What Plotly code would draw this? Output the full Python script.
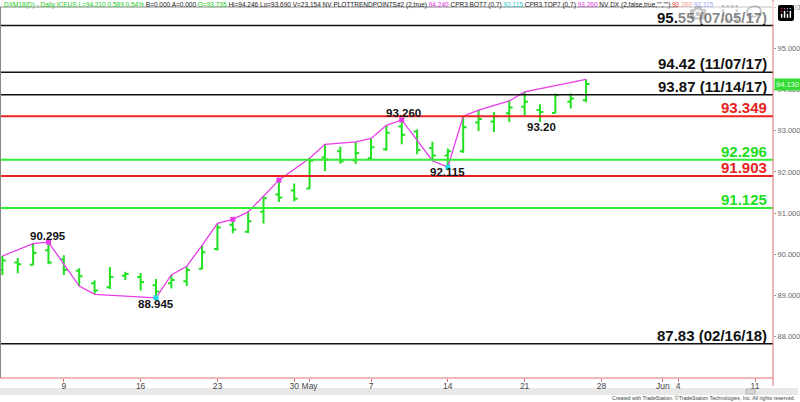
import plotly.graph_objects as go

# ---------------- data ----------------
bar_idx = list(range(39))  # trading days from 2018-04-03 to 2018-05-25
opens  = [89.62, 89.80, 89.75, 90.10, 89.88, 89.60, 89.30, 89.20, 89.48, 89.45,
          89.25, 89.30, 89.35, 89.65, 90.13, 90.72, 90.55, 91.03, 91.45, 91.55,
          91.60, 92.35, 92.50, 92.28, 92.33, 92.55, 93.10, 92.98, 92.58, 92.40,
          92.50, 93.20, 93.22, 93.42, 93.58, 93.50, 93.43, 93.70, 93.735]
highs  = [89.96, 89.91, 90.26, 90.295, 89.98, 89.66, 89.37, 89.69, 89.58, 89.55,
          89.40, 89.50, 89.71, 90.22, 90.75, 90.85, 91.03, 91.41, 91.80, 91.72,
          92.33, 92.67, 92.61, 92.73, 92.81, 93.13, 93.26, 93.03, 92.73, 92.57,
          93.35, 93.50, 93.45, 93.72, 93.94, 93.64, 93.90, 93.90, 94.246]
lows   = [89.50, 89.54, 89.74, 89.76, 89.50, 89.23, 89.03, 89.16, 89.38, 89.12,
          88.945, 89.17, 89.23, 89.63, 90.09, 90.51, 90.52, 90.75, 91.27, 91.28,
          91.58, 92.02, 92.20, 92.19, 92.28, 92.51, 92.67, 92.43, 92.27, 92.115,
          92.46, 92.99, 92.97, 93.21, 93.37, 93.21, 93.42, 93.54, 93.69]
closes = [89.85, 89.76, 90.03, 89.80, 89.62, 89.47, 89.12, 89.45, 89.52, 89.33,
          89.10, 89.38, 89.62, 90.05, 90.65, 90.60, 90.80, 91.36, 91.38, 91.35,
          92.27, 92.30, 92.26, 92.46, 92.60, 92.95, 92.90, 92.53, 92.40, 92.50,
          93.08, 93.28, 93.35, 93.56, 93.70, 93.45, 93.86, 93.78, 94.13]

trend_idx = [0, 2, 3, 5, 6, 10, 11, 12, 13, 14, 15, 16, 17, 18, 20, 21, 23, 24,
             25, 26, 28, 29, 30, 31, 33, 34, 38]
trend_val = [89.96, 90.26, 90.295, 89.23, 89.03, 88.945, 89.50, 89.71, 90.22,
             90.75, 90.85, 91.03, 91.41, 91.80, 92.33, 92.67, 92.73, 92.81,
             93.13, 93.26, 92.27, 92.115, 93.35, 93.50, 93.72, 93.94, 94.246]

top_pts_idx = [3, 15, 18, 26]
top_pts_val = [90.295, 90.85, 91.80, 93.26]
bot_pts_idx = [10, 29]
bot_pts_val = [88.945, 92.115]

level_vals   = [95.55, 94.42, 93.87, 93.349, 92.296, 91.903, 91.125, 87.83]
level_labels = ["95.55 (07/05/17)", "94.42 (11/07/17)", "93.87 (11/14/17)",
                "93.349", "92.296", "91.903", "91.125", "87.83 (02/16/18)"]
level_kinds  = ["black", "black", "black", "red", "green", "red", "green", "black"]

pivot_idx    = [3, 10, 26, 29, 35]
pivot_val    = [90.295, 88.945, 93.26, 92.115, 93.21]
pivot_labels = ["90.295", "88.945", "93.260", "92.115", "93.20"]
pivot_side   = ["above", "below", "above", "below", "below"]

x_tickvals = [4, 9, 14, 19, 20, 24, 29, 34, 39, 43, 44, 49]
x_ticktext = ["9", "16", "23", "30", "May", "7", "14", "21", "28", "Jun", "4", "11"]
y_tickvals = [88, 89, 90, 91, 92, 93, 94, 95, 96]
last_price = 94.130

# ---------------- styling ----------------
W, H = 800, 402
ML, MR, MT, MB = 0, 25, 7, 24
PW, PH = W - ML - MR, H - MT - MB
GREEN = "#22e022"
LINE_GREEN = "#33ee33"
RED = "#ee2222"
MAG = "#e83ce8"
CYAN = "#22d8e8"
COLORS = {"black": "#111111", "red": RED, "green": LINE_GREEN}
LABEL_COLORS = {"black": "#111111", "red": "#e81e1e", "green": "#22dd22"}
FONT = "Liberation Sans, Arial"

PIVOT_XSHIFT = {"93.260": 2, "93.20": 2}
PIVOT_YSHIFT = {"90.295": -2, "88.945": 2, "93.260": -1, "92.115": 3, "93.20": 3}


def px(xp):
    return (xp - ML) / PW


def py(yp):
    return (H - MB - yp) / PH


fig = go.Figure()

fig.add_trace(go.Ohlc(
    x=bar_idx, open=opens, high=highs, low=lows, close=closes,
    increasing=dict(line=dict(color=GREEN, width=2)),
    decreasing=dict(line=dict(color=GREEN, width=2)),
    tickwidth=0.22, hoverinfo="skip", showlegend=False))

fig.add_trace(go.Scatter(
    x=trend_idx, y=trend_val, mode="lines",
    line=dict(color=MAG, width=1.3), hoverinfo="skip", showlegend=False))
fig.add_trace(go.Scatter(
    x=top_pts_idx, y=top_pts_val, mode="markers",
    marker=dict(color=MAG, size=5, symbol="square"), hoverinfo="skip", showlegend=False))
fig.add_trace(go.Scatter(
    x=bot_pts_idx, y=bot_pts_val, mode="markers",
    marker=dict(color=CYAN, size=5, symbol="square"), hoverinfo="skip", showlegend=False))

shapes = []
annotations = []
for v, lab, k in zip(level_vals, level_labels, level_kinds):
    shapes.append(dict(type="line", xref="paper", yref="y", x0=0, x1=1, y0=v, y1=v,
                       line=dict(color=COLORS[k], width=2 if k != "black" else 1.5)))
    annotations.append(dict(xref="paper", yref="y", x=px(771), y=v, text=lab,
                            xanchor="right", yanchor="bottom", yshift=-2, showarrow=False,
                            font=dict(family=FONT, size=15, color=LABEL_COLORS[k],
                                      weight="bold")))

for i, v, lab, side in zip(pivot_idx, pivot_val, pivot_labels, pivot_side):
    annotations.append(dict(xref="x", yref="y", x=i, y=v, text=lab, showarrow=False,
                            xanchor="center",
                            yanchor="bottom" if side == "above" else "top",
                            yshift=PIVOT_YSHIFT[lab], xshift=PIVOT_XSHIFT.get(lab, 0),
                            font=dict(family=FONT, size=11.5, color="#111111",
                                      weight="bold")))

# borders
shapes += [
    dict(type="line", xref="paper", yref="paper", x0=0, x1=1, y0=1, y1=1,
         line=dict(color="#888888", width=1)),
    dict(type="line", xref="paper", yref="paper", x0=px(0.5), x1=px(0.5), y0=0, y1=1,
         line=dict(color="#888888", width=1)),
    dict(type="line", xref="paper", yref="paper", x0=0, x1=1, y0=0, y1=0,
         line=dict(color="#e07070", width=1)),
    dict(type="line", xref="paper", yref="paper", x0=1, x1=1, y0=py(386), y1=py(0),
         line=dict(color="#e07070", width=1)),
    # scrollbar
    dict(type="rect", xref="paper", yref="paper", x0=px(0), x1=px(800), y0=py(395), y1=py(388),
         line=dict(width=0), fillcolor="#e8e8e8", layer="below"),
    dict(type="rect", xref="paper", yref="paper", x0=px(748), x1=px(757), y0=py(394), y1=py(389),
         line=dict(color="#b8b8b8", width=1), fillcolor="#d4d4d4"),
]

# last price box
annotations.append(dict(xref="paper", yref="y", x=1, y=last_price, text=f"{last_price:.3f}",
                        xanchor="left", yanchor="middle", showarrow=False, xshift=1,
                        bgcolor="#33dd33", borderpad=1,
                        font=dict(family=FONT, size=7.5, color="#eaffea")))

# header
hdr = ('<span style="color:#22cc22">DXM18(D) - Daily ICEUS L=94.210 0.589 0.54%</span>'
       ' B=0.000 A=0.000 <span style="color:#22cc22">O=93.735</span> Hi=94.246 Lo=93.690'
       ' V=23,154 NV PLOTTRENDPOINTS#2 (2,true) <span style="color:#e030e0">94.240</span>'
       ' CPR3 BOT7 (0,7) <span style="color:#22cccc">92.115</span> CPR3 TOP7 (0,7)'
       ' <span style="color:#e030e0">93.260</span> NV DX (2,false,true,"","")'
       ' <span style="color:#ee2222">93.260</span> <span style="color:#2244ee">92.115</span>')
annotations.append(dict(xref="paper", yref="paper", x=px(2), y=py(4.5), text=hdr,
                        xanchor="left", yanchor="middle", showarrow=False,
                        font=dict(family=FONT, size=6.5, color="#222222")))

annotations.append(dict(xref="paper", yref="paper", x=px(799), y=py(398),
                        text="Created with TradeStation. ©TradeStation Technologies, Inc. All rights reserved.",
                        xanchor="right", yanchor="middle", showarrow=False,
                        font=dict(family=FONT, size=5.2, color="#444444")))

fig.update_layout(
    width=W, height=H,
    margin=dict(l=ML, r=MR, t=MT, b=MB, pad=0),
    paper_bgcolor="white", plot_bgcolor="white",
    showlegend=False,
    shapes=shapes, annotations=annotations,
    xaxis=dict(range=[-0.156, 50.17], tickvals=x_tickvals, ticktext=x_ticktext,
               showgrid=False, zeroline=False, ticks="outside", ticklen=3,
               ticklabelstandoff=-3,
               tickcolor="#e07070", tickfont=dict(family=FONT, size=8.5, color="#444444"),
               rangeslider=dict(visible=False), fixedrange=True),
    yaxis=dict(range=[87.0, 96.0], side="right", tickvals=y_tickvals, tickformat=".3f",
               showgrid=False, zeroline=False, ticks="outside", ticklen=2,
               tickcolor="#999999", tickfont=dict(family=FONT, size=7.5, color="#666666"),
               fixedrange=True),
)

fig.write_html("out.html", post_script="document.body.style.margin='0px';")
